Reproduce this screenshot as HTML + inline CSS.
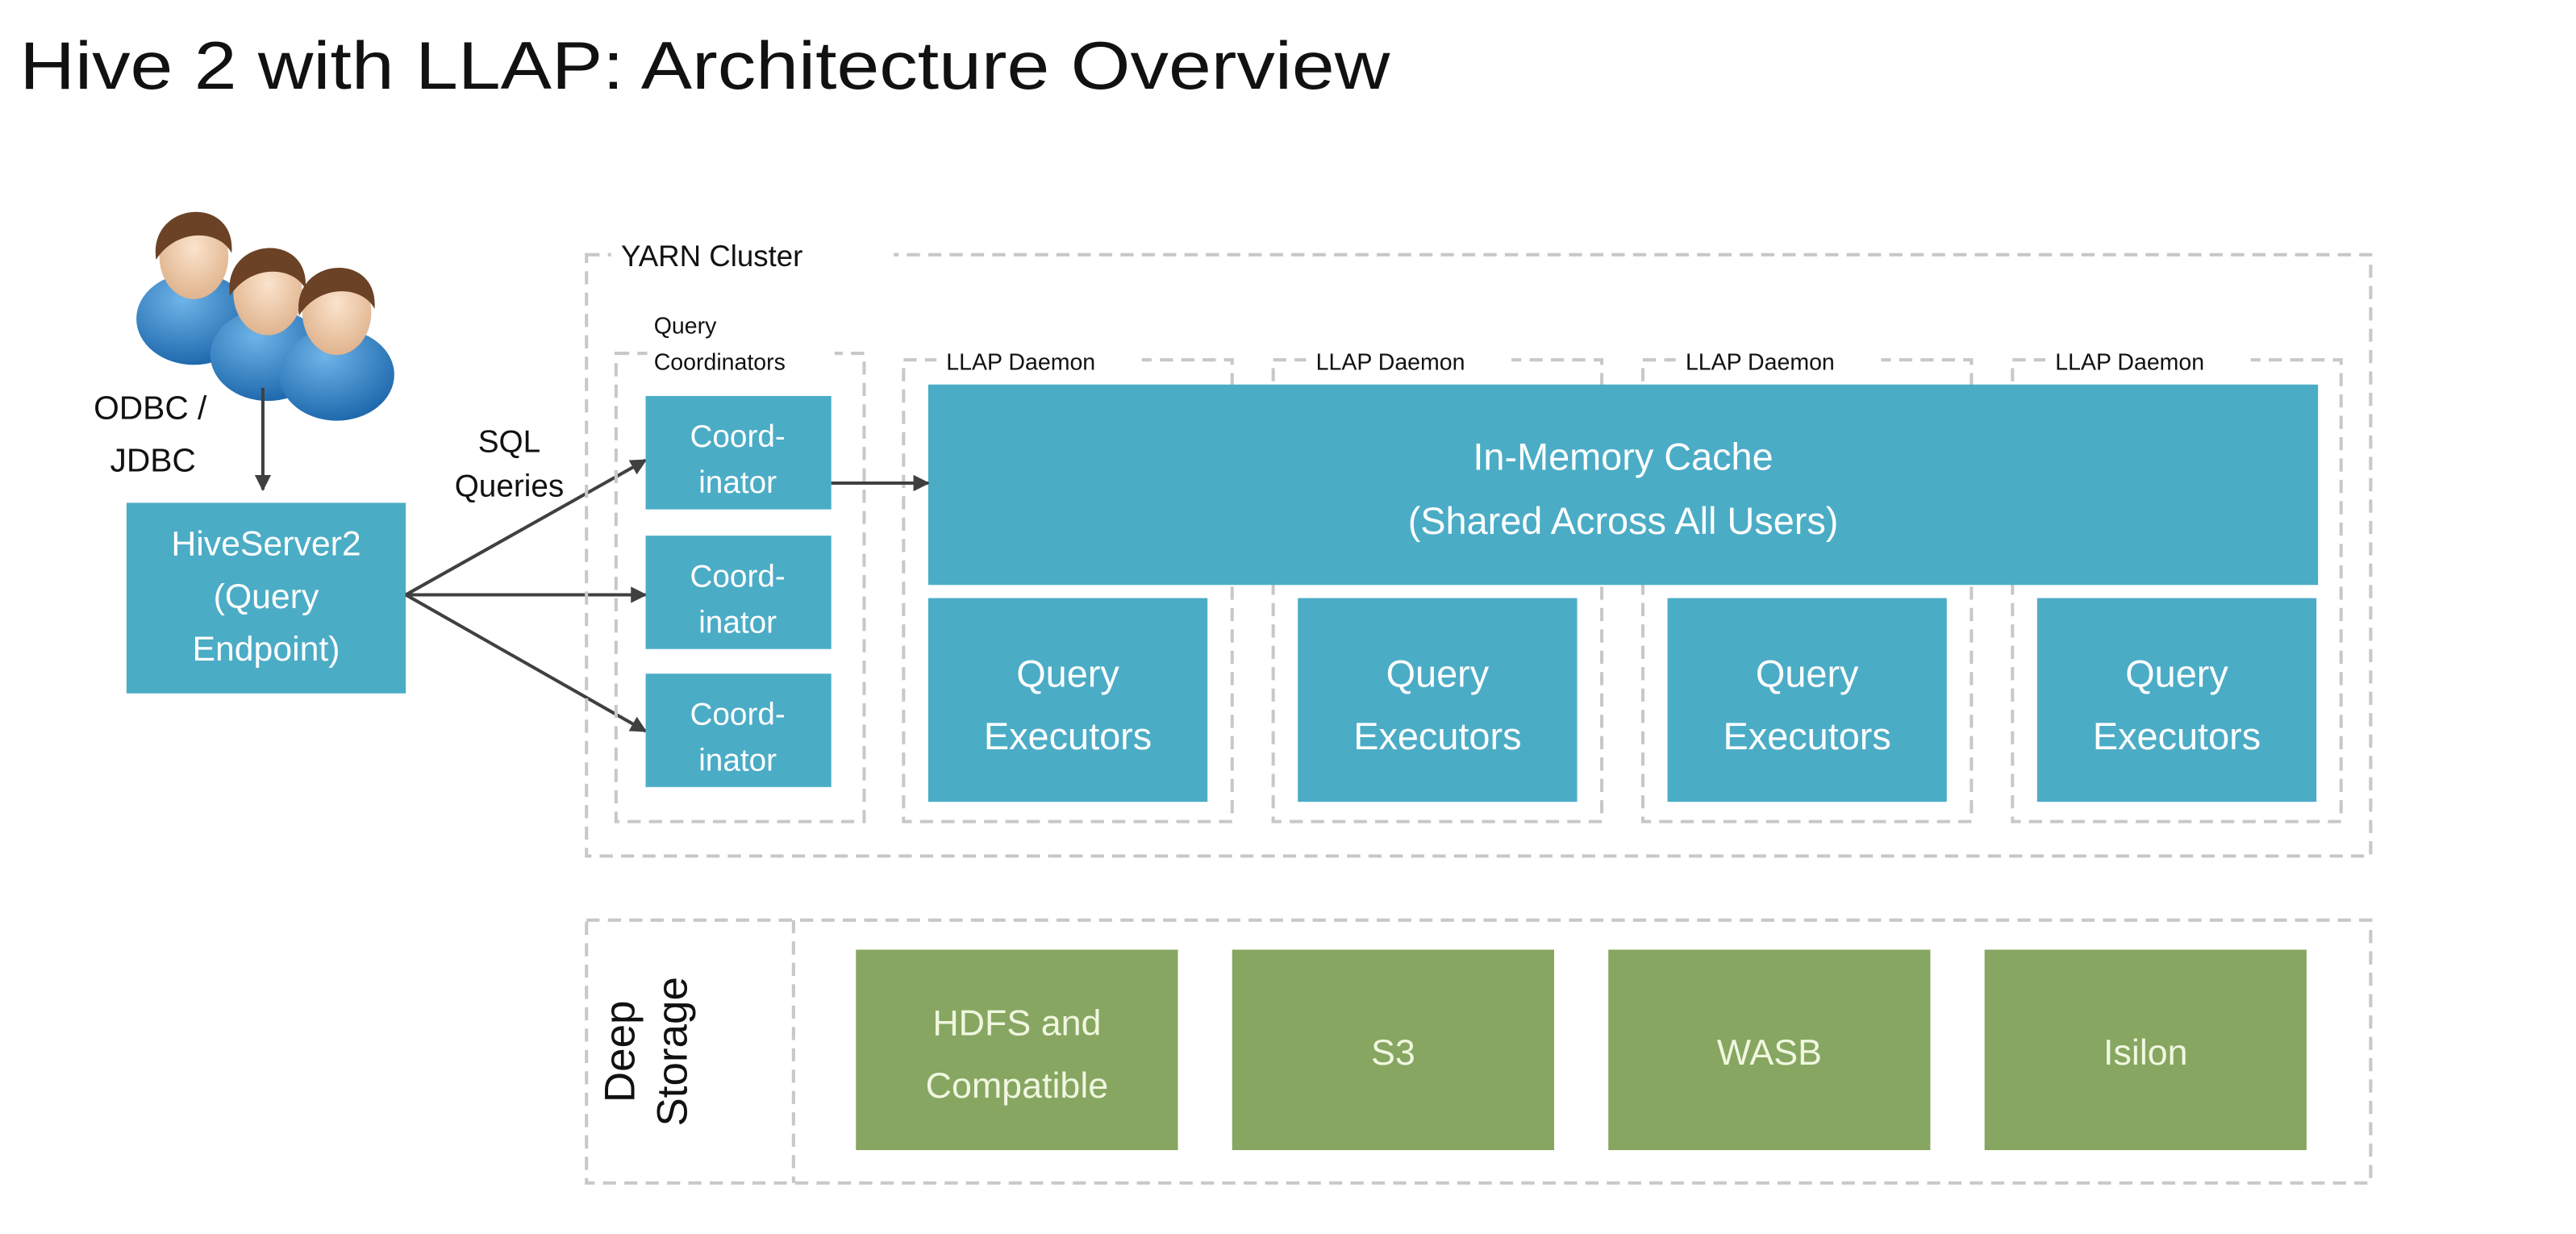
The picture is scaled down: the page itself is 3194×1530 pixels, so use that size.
<!DOCTYPE html>
<html><head><meta charset="utf-8"><style>
html,body{margin:0;padding:0;background:#fff;width:3194px;height:1530px;overflow:hidden}
svg{display:block}
text{font-family:"Liberation Sans",sans-serif}
</style></head><body>
<svg width="3194" height="1530" viewBox="0 0 1568 751" xmlns="http://www.w3.org/2000/svg">
<defs>
<marker id="ah" markerWidth="10" markerHeight="10" refX="9" refY="5" orient="auto" markerUnits="userSpaceOnUse">
<path d="M0,0 L10,5 L0,10 z" fill="#404040"/></marker>
<radialGradient id="face" cx="50%" cy="40%" r="60%"><stop offset="0" stop-color="#fbe3cc"/><stop offset="1" stop-color="#e0b48e"/></radialGradient>
<radialGradient id="body" cx="40%" cy="30%" r="70%"><stop offset="0" stop-color="#6fb4e8"/><stop offset="1" stop-color="#1f6aae"/></radialGradient>
</defs>
<text x="12" y="54" font-size="41" fill="#111" textLength="834" lengthAdjust="spacingAndGlyphs">Hive 2 with LLAP: Architecture Overview</text>

<g>
<g transform="translate(118,148)"><ellipse cx="0" cy="46" rx="35" ry="28" fill="url(#body)"/><ellipse cx="0" cy="8" rx="21" ry="26" fill="url(#face)"/><path d="M-23,10 C-28,-26 26,-30 23,6 C16,-8 -10,-10 -23,10z" fill="#6b4226"/></g>
<g transform="translate(163,170)"><ellipse cx="0" cy="46" rx="35" ry="28" fill="url(#body)"/><ellipse cx="0" cy="8" rx="21" ry="26" fill="url(#face)"/><path d="M-23,10 C-28,-26 26,-30 23,6 C16,-8 -10,-10 -23,10z" fill="#6b4226"/></g>
<g transform="translate(205,182)"><ellipse cx="0" cy="46" rx="35" ry="28" fill="url(#body)"/><ellipse cx="0" cy="8" rx="21" ry="26" fill="url(#face)"/><path d="M-23,10 C-28,-26 26,-30 23,6 C16,-8 -10,-10 -23,10z" fill="#6b4226"/></g>
</g>
<line x1="160" y1="236" x2="160" y2="298" stroke="#404040" stroke-width="2" marker-end="url(#ah)"/>
<text x="57" y="255" font-size="20" fill="#111">ODBC /</text>
<text x="67" y="287" font-size="20" fill="#111">JDBC</text>

<rect x="77" y="306" width="170" height="116" fill="#4bacc6"/>
<g font-size="21" fill="#fff" text-anchor="middle">
<text x="162" y="338">HiveServer2</text><text x="162" y="370">(Query</text><text x="162" y="402">Endpoint)</text></g>

<text x="310" y="275" font-size="19" fill="#111" text-anchor="middle">SQL</text>
<text x="310" y="302" font-size="19" fill="#111" text-anchor="middle">Queries</text>
<g stroke="#404040" stroke-width="2" fill="none">
<line x1="247" y1="362" x2="393" y2="280" marker-end="url(#ah)"/>
<line x1="247" y1="362" x2="393" y2="362" marker-end="url(#ah)"/>
<line x1="247" y1="362" x2="393" y2="445" marker-end="url(#ah)"/>
</g>

<g fill="none" stroke="#c8c8c8" stroke-width="2" stroke-dasharray="8,5">
<rect x="357" y="155" width="1086" height="366"/>
<rect x="375" y="215" width="151" height="285"/>
<rect x="550" y="219" width="200" height="281"/>
<rect x="775" y="219" width="200" height="281"/>
<rect x="1000" y="219" width="200" height="281"/>
<rect x="1225" y="219" width="200" height="281"/>
<rect x="357" y="560" width="1086" height="160"/>
<line x1="483" y1="560" x2="483" y2="720"/>
</g>
<rect x="372" y="143" width="172" height="24" fill="#fff"/>
<text x="378" y="162" font-size="18" fill="#111">YARN Cluster</text>
<rect x="394" y="185" width="114" height="42" fill="#fff"/>
<text x="398" y="203" font-size="14" fill="#111">Query</text>
<text x="398" y="225" font-size="14" fill="#111">Coordinators</text>
<g font-size="14" fill="#111">
<rect x="570" y="208" width="125" height="22" fill="#fff"/><text x="576" y="225">LLAP Daemon</text>
<rect x="795" y="208" width="125" height="22" fill="#fff"/><text x="801" y="225">LLAP Daemon</text>
<rect x="1020" y="208" width="125" height="22" fill="#fff"/><text x="1026" y="225">LLAP Daemon</text>
<rect x="1245" y="208" width="125" height="22" fill="#fff"/><text x="1251" y="225">LLAP Daemon</text>
</g>

<g fill="#4bacc6">
<rect x="393" y="241" width="113" height="69"/><rect x="393" y="326" width="113" height="69"/><rect x="393" y="410" width="113" height="69"/>
<rect x="565" y="234" width="846" height="122"/>
<rect x="565" y="364" width="170" height="124"/><rect x="790" y="364" width="170" height="124"/>
<rect x="1015" y="364" width="170" height="124"/><rect x="1240" y="364" width="170" height="124"/>
</g>
<g font-size="19" fill="#fff" text-anchor="middle">
<text x="449" y="272">Coord-</text><text x="449" y="300">inator</text>
<text x="449" y="357">Coord-</text><text x="449" y="385">inator</text>
<text x="449" y="441">Coord-</text><text x="449" y="469">inator</text>
</g>
<line x1="506" y1="294" x2="565" y2="294" stroke="#404040" stroke-width="2" marker-end="url(#ah)"/>
<g font-size="23" fill="#fff" text-anchor="middle">
<text x="988" y="286">In-Memory Cache</text><text x="988" y="325">(Shared Across All Users)</text>
<text x="650" y="418">Query</text><text x="650" y="456">Executors</text>
<text x="875" y="418">Query</text><text x="875" y="456">Executors</text>
<text x="1100" y="418">Query</text><text x="1100" y="456">Executors</text>
<text x="1325" y="418">Query</text><text x="1325" y="456">Executors</text>
</g>

<g fill="#87a661">
<rect x="521" y="578" width="196" height="122"/><rect x="750" y="578" width="196" height="122"/>
<rect x="979" y="578" width="196" height="122"/><rect x="1208" y="578" width="196" height="122"/>
</g>
<g font-size="22" fill="#f0f7e0" text-anchor="middle">
<text x="619" y="630">HDFS and</text><text x="619" y="668">Compatible</text>
<text x="848" y="648">S3</text><text x="1077" y="648">WASB</text><text x="1306" y="648">Isilon</text>
</g>
<g transform="translate(390,640) rotate(-90)" font-size="26" fill="#111" text-anchor="middle">
<text x="0" y="-4">Deep</text><text x="0" y="28">Storage</text>
</g>
</svg>
</body></html>
